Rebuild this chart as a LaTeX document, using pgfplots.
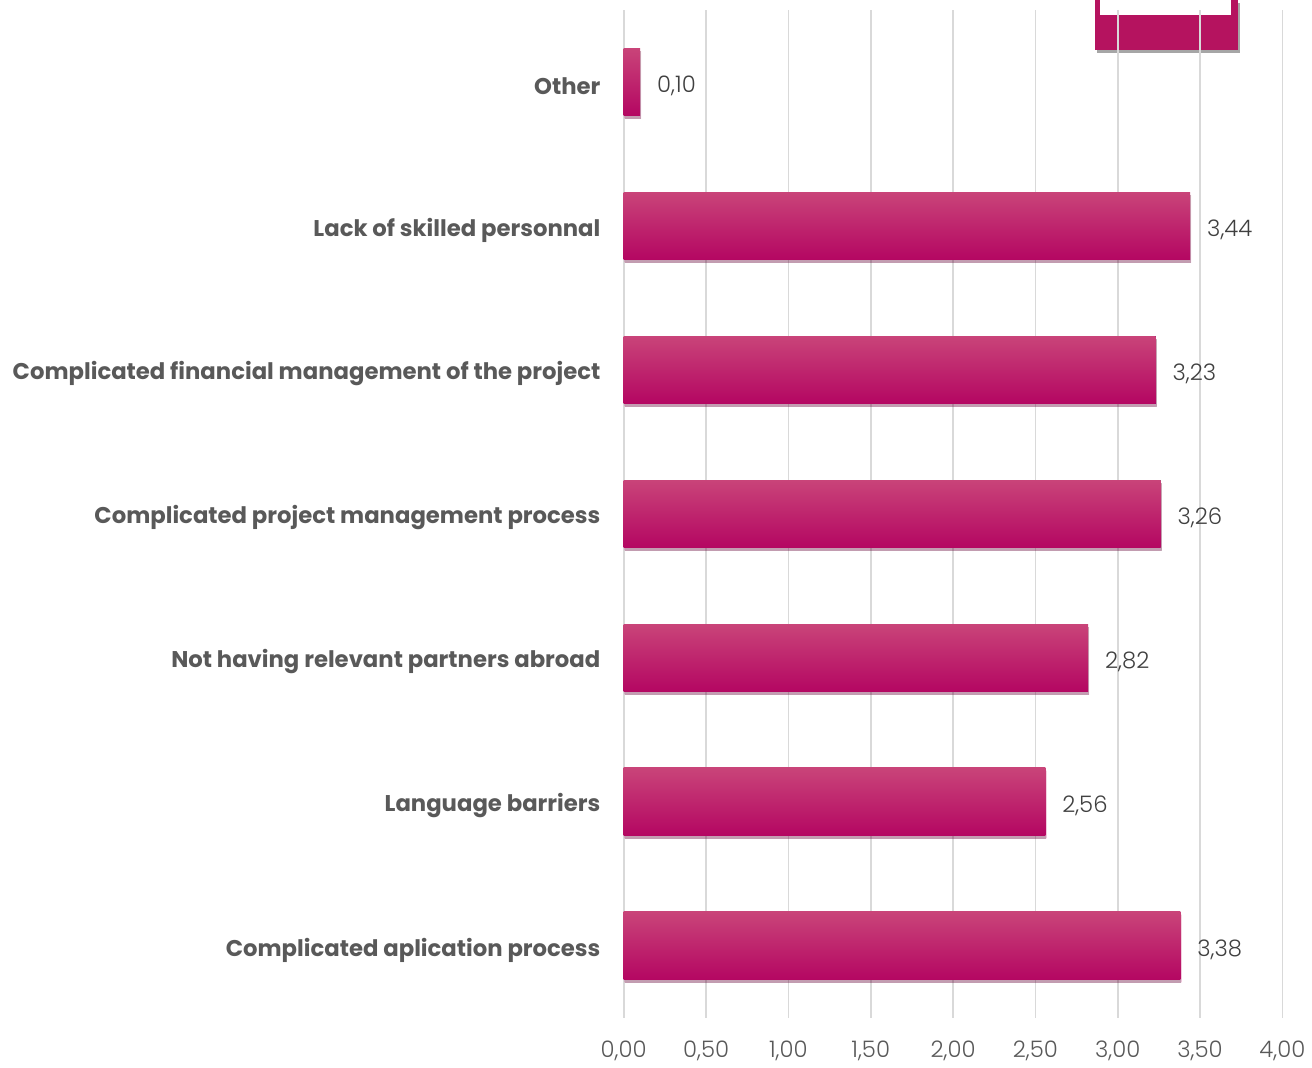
\documentclass[border=0pt]{standalone}
\usepackage{pgfplots}
\pgfplotsset{compat=1.18}
\usepackage{fontspec}
\setmainfont{Poppins}
\newfontfamily\lightfont{Poppins Light}
\usetikzlibrary{shadows}
\definecolor{bartop}{HTML}{C94479}
\definecolor{barmid}{HTML}{C2086B}
\definecolor{barbot}{HTML}{B40662}
\definecolor{logo}{HTML}{B5135F}
\definecolor{gridc}{HTML}{D9D9D9}
\definecolor{labc}{HTML}{595959}
\definecolor{valc}{HTML}{404040}
\begin{document}
\begin{tikzpicture}
% decorative logo box (top right)
\fill[logo, drop shadow={fill=black, shadow xshift=1pt, shadow yshift=-1.5pt, opacity=0.35}] (236pt,485pt) rectangle (308pt,510pt);
\fill[white] (238.5pt,502.5pt) rectangle (304.5pt,510pt);
\begin{axis}[
  at={(0,0)}, anchor=south west,
  scale only axis,
  width=330pt, height=505pt,
  xbar,
  bar width=34pt,
  bar shift=0pt,
  xmin=0, xmax=4,
  ymin=-0.5, ymax=6.5,
  xtick={0,0.5,...,4},
  ytick={0,1,2,3,4,5,6},
  yticklabels={Complicated aplication process,Language barriers,Not having relevant partners abroad,Complicated project management process,Complicated financial management of the project,Lack of skilled personnal,Other},
  axis line style={draw=none},
  major tick length=0pt,
  xmajorgrids,
  major grid style={gridc, line width=0.8pt},
  /pgf/number format/assume math mode=true,
  xticklabel style={/pgf/number format/.cd, fixed, fixed zerofill, precision=2, use comma, /tikz/.cd, font=\fontsize{11.4}{13}\lightfont, text=labc, yshift=-8pt},
  yticklabel style={font=\fontsize{11.4}{13}\selectfont\bfseries, text=labc, anchor=east, inner sep=0pt, xshift=-11.5pt, yshift=-2pt},
  nodes near coords,
  nodes near coords style={/pgf/number format/.cd, fixed, fixed zerofill, precision=2, use comma, /tikz/.cd, font=\fontsize{11.4}{13}\lightfont, text=valc, anchor=west, xshift=5pt, yshift=-2pt},
  every axis plot/.append style={draw=none, top color=bartop, middle color=barmid, bottom color=barbot,
    drop shadow={fill=black, shadow xshift=0.5pt, shadow yshift=-1.5pt, opacity=0.22}},
  clip=false,
]
\addplot coordinates {(3.38,0)};
\addplot coordinates {(2.56,1)};
\addplot coordinates {(2.82,2)};
\addplot coordinates {(3.26,3)};
\addplot coordinates {(3.23,4)};
\addplot coordinates {(3.44,5)};
\addplot coordinates {(0.10,6)};
\end{axis}
\path (-312.5pt,-22pt) rectangle (343.5pt,510pt);
\end{tikzpicture}
\end{document}
